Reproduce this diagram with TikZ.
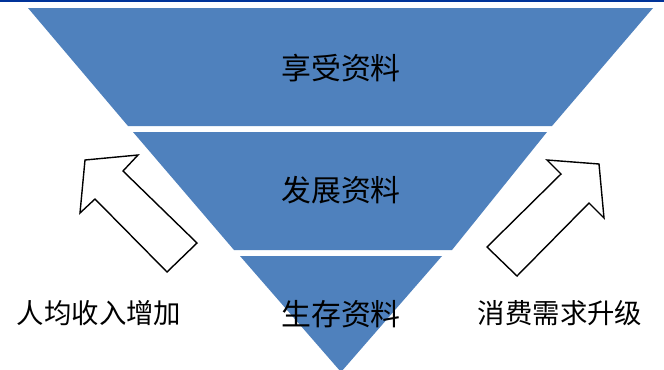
\documentclass[tikz,border=0pt]{standalone}
\usepackage{fontspec}
\setmainfont{Noto Sans CJK SC}
\definecolor{bandblue}{HTML}{4F81BD}
\definecolor{topline}{HTML}{003399}
\tikzset{
  band/.style={fill=bandblue, draw=none},
  blockarrow/.style={draw=black, fill=white, line width=1.4bp, line join=miter},
  bandlabel/.style={inner sep=0pt, font=\fontsize{30}{33}\selectfont, text=black},
  sidelabel/.style={inner sep=0pt, font=\fontsize{27.5}{30}\selectfont, text=black}
}
\begin{document}
\begin{tikzpicture}[x=1bp,y=-1bp]
\useasboundingbox (0,0) rectangle (664,369);
\fill[white] (0,0) rectangle (664,369);
% top rule
\fill[topline] (0,0) rectangle (664,2.2);
% bands
\path[band] (28,8) -- (653,8) -- (552,126) -- (128,126) -- cycle;
\path[band] (133,132) -- (547,132) -- (452,250) -- (234,250) -- cycle;
\path[band] (240,256) -- (442,256) -- (341,372) -- cycle;
% labels
\node[bandlabel] (l1) at (341,68) {享受资料};
\node[bandlabel] (l2) at (341,190) {发展资料};
\node[bandlabel] (l3) at (341,314) {生存资料};
% block arrows
\path[blockarrow] (85,160) -- (138,155) -- (123,171) -- (197,243) -- (167,272) -- (95,199) -- (80,213) -- cycle;
\path[blockarrow] (599,164) -- (547,160) -- (561,174) -- (487,247) -- (517,276) -- (589,203) -- (604,218) -- cycle;
% side labels
\node[sidelabel] (s1) at (99,313) {人均收入增加};
\node[sidelabel] (s2) at (560,313) {消费需求升级};
\end{tikzpicture}
\end{document}
